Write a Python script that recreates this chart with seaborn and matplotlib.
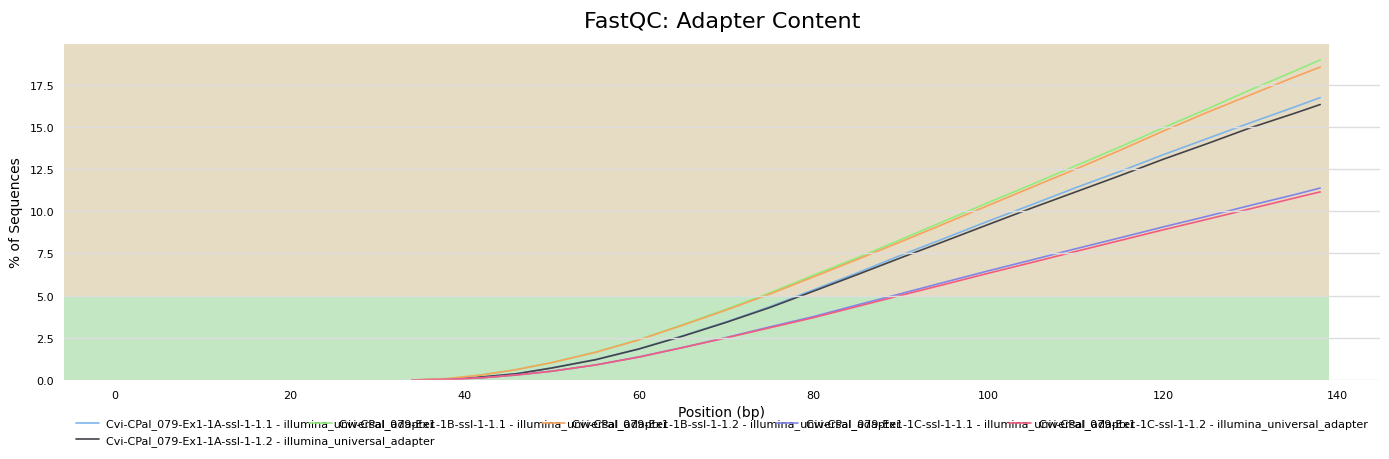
import pandas as pd
import matplotlib
matplotlib.use('Agg')
import matplotlib.pyplot as plt
import seaborn as sns
import numpy as np

# position (bp) along the read (adapter content is zero before ~34 bp)
positions = [34, 38, 42, 46, 50, 55, 60, 65, 70, 75, 80, 85, 90,
             95, 100, 105, 110, 115, 120, 125, 130, 135, 138]

# % of sequences with adapter, per sample
s_1a_11 = [0, 0.04, 0.18, 0.38, 0.72, 1.21, 1.85, 2.62, 3.45, 4.35, 5.35,
           6.35, 7.4, 8.4, 9.42, 10.4, 11.4, 12.35, 13.35, 14.3, 15.25, 16.17, 16.74]
s_1a_12 = [0, 0.04, 0.18, 0.37, 0.71, 1.2, 1.84, 2.6, 3.42, 4.3, 5.27,
           6.25, 7.25, 8.23, 9.22, 10.2, 11.15, 12.1, 13.08, 14.0, 14.95, 15.8, 16.33]
s_1b_11 = [0, 0.08, 0.3, 0.62, 1.03, 1.65, 2.4, 3.28, 4.2, 5.17, 6.22,
           7.25, 8.33, 9.43, 10.52, 11.6, 12.7, 13.8, 14.95, 16.05, 17.2, 18.3, 18.97]
s_1b_12 = [0, 0.08, 0.3, 0.62, 1.03, 1.64, 2.38, 3.25, 4.15, 5.1, 6.12,
           7.15, 8.2, 9.27, 10.35, 11.43, 12.5, 13.6, 14.75, 15.85, 16.9, 17.95, 18.55]
s_1c_11 = [0, 0.03, 0.13, 0.3, 0.52, 0.89, 1.37, 1.93, 2.52, 3.15, 3.76,
           4.45, 5.12, 5.8, 6.47, 7.12, 7.78, 8.42, 9.07, 9.7, 10.35, 10.98, 11.38]
s_1c_12 = [0, 0.03, 0.13, 0.3, 0.52, 0.89, 1.36, 1.92, 2.5, 3.1, 3.7,
           4.36, 5.02, 5.67, 6.33, 6.97, 7.62, 8.26, 8.9, 9.52, 10.15, 10.78, 11.15]

samples = [
    'Cvi-CPal_079-Ex1-1A-ssl-1-1.1 - illumina_universal_adapter',
    'Cvi-CPal_079-Ex1-1A-ssl-1-1.2 - illumina_universal_adapter',
    'Cvi-CPal_079-Ex1-1B-ssl-1-1.1 - illumina_universal_adapter',
    'Cvi-CPal_079-Ex1-1B-ssl-1-1.2 - illumina_universal_adapter',
    'Cvi-CPal_079-Ex1-1C-ssl-1-1.1 - illumina_universal_adapter',
    'Cvi-CPal_079-Ex1-1C-ssl-1-1.2 - illumina_universal_adapter',
]
series = [s_1a_11, s_1a_12, s_1b_11, s_1b_12, s_1c_11, s_1c_12]
colors = ['#7cb5ec', '#434348', '#90ed7d', '#f7a35c', '#8085e9', '#f15c80']

# long-form table for seaborn
df = pd.concat([pd.DataFrame({'Position (bp)': positions, 'pct': vals, 'sample': name})
                for name, vals in zip(samples, series)], ignore_index=True)

sns.set_theme(style='whitegrid')
plt.rcParams['font.family'] = ['DejaVu Sans']
plt.rcParams['grid.color'] = '#dddddd'
plt.rcParams['text.color'] = 'black'
plt.rcParams['axes.labelcolor'] = 'black'
plt.rcParams['xtick.color'] = 'black'
plt.rcParams['ytick.color'] = 'black'

fig, ax = plt.subplots(figsize=(13.89, 4.6), dpi=100)
fig.subplots_adjust(left=64 / 1389, right=1380 / 1389, top=1 - 45 / 460, bottom=1 - 381 / 460)

sns.lineplot(data=df, x='Position (bp)', y='pct', hue='sample', hue_order=samples,
             palette=colors, linewidth=1.2, ax=ax)

# x range covers read positions 1..138 plus 5% margins, +5% headroom on y
x_lo, x_hi = -5.85, 144.85
ax.set_xlim(x_lo, x_hi)
ymax = max(max(s) for s in series) * 1.05
ax.set_ylim(0, ymax)

# pass/warn bands
band_end = (139 - x_lo) / (x_hi - x_lo)
ax.axhspan(0, 5, xmin=0, xmax=band_end, color='#c3e6c3', zorder=0, lw=0)
ax.axhspan(5, ymax, xmin=0, xmax=band_end, color='#e6dcc3', zorder=0, lw=0)
ax.set_axisbelow(False)
ax.grid(True, axis='y', color='#dddddd', lw=1, zorder=0.5)
ax.grid(False, axis='x')

ax.set_xticks(np.arange(0, 141, 20))
ax.set_yticks(np.arange(0, 18, 2.5))
ax.tick_params(axis='both', labelsize=8, pad=7, length=0)
for s in ax.spines.values():
    s.set_visible(False)

ax.set_title('FastQC: Adapter Content', fontsize=16, pad=12)
ax.set_ylabel('% of Sequences', fontsize=10, labelpad=5)
ax.set_xlabel('Position (bp)', fontsize=10, labelpad=4)

ax.legend(ncol=5, loc='upper center', bbox_to_anchor=(0.5, -0.085), frameon=False,
          fontsize=8, columnspacing=-11.3, handlelength=2.0, handletextpad=0.7,
          labelspacing=0.5)

plt.savefig('out.png', dpi=100)
